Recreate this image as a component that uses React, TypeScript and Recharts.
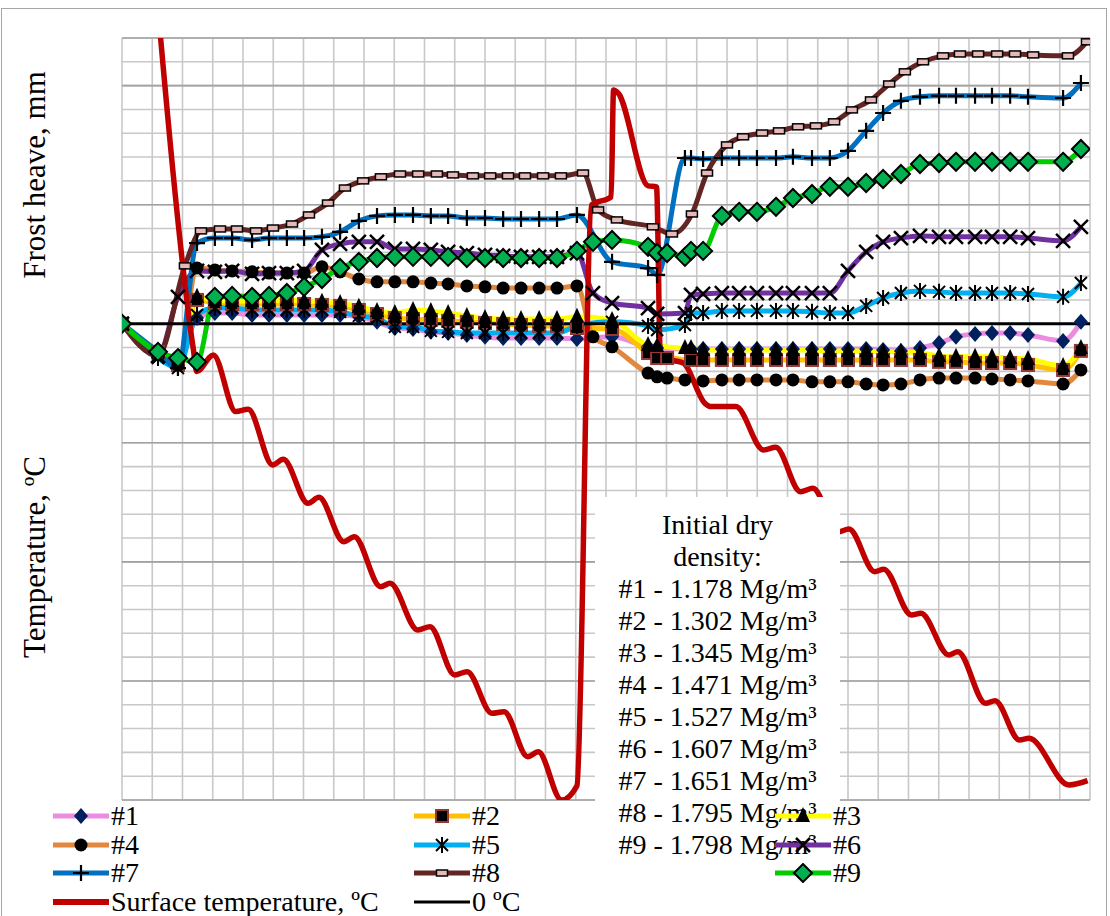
import React from 'react';
import { LineChart, Line, XAxis, YAxis, CartesianGrid, ReferenceLine } from 'recharts';

const W = 1110;
const H = 916;
const FONT = "'Liberation Serif', 'Times New Roman', serif";

// reading times (grid units) shared by samples #1-#7 and #9
const times = [
  0, 1.19, 1.85, 2.48, 3.07, 3.64, 4.3, 4.86, 5.45, 6.02, 6.61, 7.21, 7.83, 8.43, 9.02, 9.62, 10.21,
  10.78, 11.4, 12.0, 12.6, 13.19, 13.79, 14.38, 15.04, 15.57, 16.2, 17.39, 17.69, 18.02, 18.61, 18.81,
  19.21, 19.83, 20.4, 20.99, 21.62, 22.18, 22.81, 23.4, 24.0, 24.6, 25.16, 25.75, 26.38, 27.01, 27.57,
  28.2, 28.76, 29.36, 29.95, 31.11, 31.7,
];

// sample #8 was read slightly later
const times8 = [
  0, 1.19, 2.08, 2.61, 3.24, 3.8, 4.43, 4.99, 5.62, 6.18, 6.81, 7.37, 7.97, 8.56, 9.19, 9.79, 10.41,
  10.94, 11.6, 12.17, 12.76, 13.32, 13.92, 14.51, 15.24, 15.74, 16.36, 17.55, 18.18, 18.84, 19.34, 20.0,
  20.53, 21.16, 21.72, 22.35, 22.94, 23.54, 24.13, 24.76, 25.36, 25.88, 26.48, 27.14, 27.7, 28.3, 28.93,
  29.52, 30.12, 31.27, 31.9,
];

// frost heave, mm
const heave1 = [
  0, -1.18, -1.6, 0.24, 0.45, 0.45, 0.37, 0.37, 0.37, 0.37, 0.37, 0.37, 0.29, 0.08, -0.18, -0.22, -0.34,
  -0.39, -0.47, -0.55, -0.6, -0.6, -0.6, -0.6, -0.64, null, -0.55, -0.97, -1.02, null, null, -1.06,
  -1.06, -1.06, -1.06, -1.06, -1.06, -1.06, -1.06, -1.06, -1.06, -1.06, -1.1, -1.14, -1.02, -0.81,
  -0.55, -0.43, -0.39, -0.39, -0.47, -0.72, 0.08,
];
const heave2 = [
  0, -1.18, -1.73, 1.0, 0.87, 0.83, 0.83, 0.83, 0.83, 0.83, 0.79, 0.75, 0.58, 0.41, 0.24, 0.2, 0.16,
  0.12, 0.08, 0.03, -0.01, -0.05, -0.09, -0.09, -0.18, null, -0.22, -1.23, -1.44, -1.44, null, -1.52,
  -1.52, -1.52, -1.52, -1.52, -1.52, -1.52, -1.52, -1.52, -1.52, -1.52, -1.52, -1.52, -1.52, -1.6,
  -1.6, -1.65, -1.65, -1.65, -1.73, -1.94, -1.14,
];
const heave3 = [
  0, -1.18, -1.6, 1.13, 1.0, 0.96, 0.96, 0.96, 1.0, 0.96, 0.92, 0.87, 0.71, 0.54, 0.45, 0.58, 0.54,
  0.45, 0.33, 0.24, 0.2, 0.2, 0.2, 0.2, 0.29, null, 0.16, -0.89, -0.93, null, -1.02, -1.02, -1.1,
  -1.1, -1.1, -1.1, -1.1, -1.1, -1.1, -1.14, -1.14, -1.14, -1.18, -1.18, -1.23, -1.35, -1.39, -1.39,
  -1.39, -1.44, -1.48, -1.77, -1.02,
];
const heave4 = [
  0, -1.27, -1.73, 2.34, 2.26, 2.22, 2.18, 2.13, 2.13, 2.13, 2.39, 2.18, 1.88, 1.76, 1.76, 1.76, 1.71,
  1.67, 1.59, 1.55, 1.5, 1.5, 1.5, 1.5, 1.59, -0.55, -0.97, -2.07, -2.23, -2.28, -2.36, null, -2.4,
  -2.36, -2.36, -2.36, -2.36, -2.36, -2.44, -2.44, -2.44, -2.53, -2.57, -2.53, -2.36, -2.28, -2.28,
  -2.28, -2.32, -2.36, -2.4, -2.53, -1.94,
];
const heave5 = [
  0, -1.44, -1.86, 0.37, 0.66, 0.66, 0.58, 0.58, 0.58, 0.58, 0.58, 0.5, 0.33, 0.24, -0.13, -0.13, -0.3,
  -0.34, -0.39, -0.39, -0.39, -0.39, -0.39, -0.39, -0.09, null, 0.08, -0.09, -0.26, null, -0.05, 0.45,
  0.45, 0.54, 0.54, 0.54, 0.54, 0.54, 0.5, 0.45, 0.45, 0.75, 1.08, 1.29, 1.38, 1.34, 1.29, 1.29, 1.29,
  1.29, 1.25, 1.13, 1.71,
];
const heave6 = [
  0, -1.35, 1.13, 2.22, 2.18, 2.22, 2.09, 2.13, 2.13, 2.22, 3.1, 3.35, 3.44, 3.44, 3.14, 3.14, 3.1,
  3.02, 2.97, 2.89, 2.85, 2.81, 2.81, 2.81, 2.97, 1.29, 0.87, 0.66, 0.41, null, 0.45, 1.21, 1.25, 1.29,
  1.29, 1.29, 1.29, 1.29, 1.29, 1.29, 2.22, 3.02, 3.44, 3.6, 3.69, 3.65, 3.65, 3.65, 3.65, 3.65, 3.6,
  3.48, 4.07,
];
const heave7 = [
  0, -1.18, -1.86, 3.39, 3.6, 3.6, 3.52, 3.6, 3.6, 3.6, 3.65, 3.86, 4.32, 4.53, 4.57, 4.57, 4.53, 4.53,
  4.44, 4.44, 4.4, 4.4, 4.4, 4.4, 4.57, null, 2.6, 2.34, 2.05, null, 6.96, 6.96, 6.92, 6.96, 6.96, 6.96,
  6.96, 7.01, 6.96, 6.96, 7.26, 8.1, 8.85, 9.36, 9.53, 9.57, 9.57, 9.57, 9.57, 9.57, 9.53, 9.48, 10.11,
];
const heave8 = [
  0, -1.35, 2.43, 3.9, 3.98, 3.98, 3.9, 4.02, 4.19, 4.57, 5.07, 5.7, 6.0, 6.17, 6.29, 6.29, 6.29, 6.25,
  6.21, 6.21, 6.21, 6.21, 6.21, 6.21, 6.33, 4.78, 4.36, 4.07, 3.77, 4.61, 6.33, 7.51, 7.85, 8.01, 8.1,
  8.27, 8.31, 8.48, 8.98, 9.4, 10.07, 10.58, 11.0, 11.25, 11.33, 11.33, 11.33, 11.33, 11.29, 11.25,
  11.84,
];
const heave9 = [
  0, -1.18, -1.44, -1.6, 1.13, 1.17, 1.13, 1.17, 1.29, 1.55, 1.88, 2.34, 2.6, 2.76, 2.81, 2.81, 2.81,
  2.81, 2.76, 2.76, 2.76, 2.76, 2.76, 2.76, 3.06, 3.44, 3.52, 3.23, 2.97, 2.97, 2.81, 3.06, 3.06, 4.53,
  4.7, 4.7, 4.91, 5.28, 5.45, 5.75, 5.75, 5.91, 6.08, 6.29, 6.71, 6.75, 6.8, 6.8, 6.8, 6.8, 6.8, 6.8,
  7.34,
];

// surface temperature, ºC
const tempTimes = [
  1.0, 2.36, 2.47, 3.02, 3.76, 4.17, 4.98, 5.33, 6.15, 6.51, 7.33, 7.68, 8.55, 8.86, 9.78, 10.18, 11.0,
  11.41, 12.23, 12.63, 13.41, 13.76, 14.53, 15.04, 15.52, 16.17, 16.25, 16.4, 17.39, 17.67, 17.8,
  18.55, 19.27, 19.47, 20.29, 21.21, 21.61, 22.43, 22.84, 23.67, 24.03, 24.88, 25.18, 26.1, 26.41,
  27.33, 27.63, 28.55, 28.86, 29.67, 29.98, 31.31, 31.92,
];
const tempValues = [
  15.96, -1.09, -2.01, -1.31, -3.69, -3.59, -5.93, -5.69, -7.54, -7.29, -9.15, -8.94, -11.04, -10.9,
  -12.86, -12.72, -14.75, -14.61, -16.36, -16.29, -18.18, -17.97, -20.0, -19.4, 4.99, 5.33, 9.82, 9.69,
  5.79, 5.75, -1.44, -1.65, -3.34, -3.48, -3.48, -5.3, -5.19, -7.05, -6.91, -8.74, -8.62, -10.41,
  -10.31, -12.23, -12.16, -13.91, -13.77, -15.94, -15.83, -17.48, -17.41, -19.37, -19.19,
];
const zeroTimes = [0, 32];
const zeroValues = [0, 0];

const densities = ['1.178', '1.302', '1.345', '1.471', '1.527', '1.607', '1.651', '1.795', '1.798'];

type MarkerKind = 'diamond' | 'square' | 'triangle' | 'circle' | 'star' | 'cross' | 'plus' | 'dash' | 'greenDiamond';

const series: { name: string; t: number[]; v: (number | null)[]; color: string; marker: MarkerKind }[] = [
  { name: '#1', t: times, v: heave1, color: '#EC8CE0', marker: 'diamond' },
  { name: '#2', t: times, v: heave2, color: '#FFC000', marker: 'square' },
  { name: '#3', t: times, v: heave3, color: '#FFFF00', marker: 'triangle' },
  { name: '#4', t: times, v: heave4, color: '#E1873E', marker: 'circle' },
  { name: '#5', t: times, v: heave5, color: '#00B0F0', marker: 'star' },
  { name: '#6', t: times, v: heave6, color: '#7030A0', marker: 'cross' },
  { name: '#7', t: times, v: heave7, color: '#0070C0', marker: 'plus' },
  { name: '#8', t: times8, v: heave8, color: '#632523', marker: 'dash' },
  { name: '#9', t: times, v: heave9, color: '#00CC00', marker: 'greenDiamond' },
];

const xTicks = Array.from({ length: 33 }, (_, i) => i);
const yTicks = Array.from({ length: 33 }, (_, i) => i - 20);
const majorY = [-20, -15, -10, -5, 5, 10, 12];

function Marker({ kind, x, y }: { kind: MarkerKind; x: number; y: number }) {
  switch (kind) {
    case 'diamond':
      return <path d={`M${x} ${y - 8}L${x + 7} ${y}L${x} ${y + 8}L${x - 7} ${y}Z`} fill="#002060" />;
    case 'greenDiamond':
      return (
        <path d={`M${x} ${y - 9}L${x + 9} ${y}L${x} ${y + 9}L${x - 9} ${y}Z`} fill="#00B050" stroke="#000" strokeWidth={2} />
      );
    case 'square':
      return <rect x={x - 6} y={y - 6} width={12} height={12} fill="#000" stroke="#953735" strokeWidth={2} />;
    case 'triangle':
      return <path d={`M${x} ${y - 9}L${x + 7} ${y + 6}L${x - 7} ${y + 6}Z`} fill="#000" />;
    case 'circle':
      return <circle cx={x} cy={y} r={6.5} fill="#000" />;
    case 'star':
      return (
        <path
          d={`M${x - 6} ${y - 6}L${x + 6} ${y + 6}M${x + 6} ${y - 6}L${x - 6} ${y + 6}M${x} ${y - 8}L${x} ${y + 8}`}
          stroke="#000"
          strokeWidth={2}
        />
      );
    case 'cross':
      return <path d={`M${x - 7} ${y - 7}L${x + 7} ${y + 7}M${x + 7} ${y - 7}L${x - 7} ${y + 7}`} stroke="#000" strokeWidth={2.5} />;
    case 'plus':
      return <path d={`M${x - 8} ${y}L${x + 8} ${y}M${x} ${y - 8}L${x} ${y + 8}`} stroke="#000" strokeWidth={2.2} />;
    case 'dash':
      return <rect x={x - 5.5} y={y - 3} width={11} height={6} fill="#E6B9B8" stroke="#000" strokeWidth={1.5} />;
  }
  return null;
}

const makeDot = (kind: MarkerKind) => (p: any) => {
  const key = `${kind}-${p.index}`;
  if (p.value == null || !Number.isFinite(p.cx) || !Number.isFinite(p.cy)) return <g key={key} />;
  return (
    <g key={key}>
      <Marker kind={kind} x={p.cx} y={p.cy} />
    </g>
  );
};

const legendItems: { label: string; color: string; width: number; marker?: MarkerKind }[] = [
  ...series.map((s) => ({ label: s.name, color: s.color, width: 5, marker: s.marker })),
  { label: 'Surface temperature, ºC', color: '#C00000', width: 6 },
  { label: '0 ºC', color: '#000000', width: 3 },
];
const legendCols = [53, 414, 775];

export default function App() {
  return (
    <div style={{ position: 'absolute', left: 0, top: 0, width: W, height: H, background: '#fff', overflow: 'hidden', fontFamily: FONT, color: '#000' }}>
      <LineChart width={W} height={H} margin={{ top: 38, right: 20, bottom: 116, left: 122 }}>
        <XAxis type="number" dataKey="t" domain={[0, 32]} ticks={xTicks} allowDataOverflow hide />
        <YAxis yAxisId="heave" type="number" domain={[-20, 12]} ticks={yTicks} allowDataOverflow hide />
        <YAxis yAxisId="temp" type="number" domain={[-20, 12]} allowDataOverflow hide />
        <CartesianGrid yAxisId="heave" stroke="#c8c8c8" strokeWidth={1.6} />
        {majorY.map((y) => (
          <ReferenceLine key={y} yAxisId="heave" y={y} stroke="#a2a2a2" strokeWidth={1.6} />
        ))}
        {series.map((s) => (
          <Line
            key={s.name}
            yAxisId="heave"
            data={s.t.map((t, i) => ({ t, v: s.v[i] }))}
            dataKey="v"
            type="monotone"
            stroke={s.color}
            strokeWidth={5}
            connectNulls
            dot={makeDot(s.marker)}
            activeDot={false}
            isAnimationActive={false}
          />
        ))}
        <Line
          yAxisId="temp"
          data={tempTimes.map((t, i) => ({ t, v: tempValues[i] }))}
          dataKey="v"
          type="monotone"
          stroke="#C00000"
          strokeWidth={5.5}
          strokeLinejoin="round"
          dot={false}
          activeDot={false}
          isAnimationActive={false}
        />
        <Line
          yAxisId="temp"
          data={zeroTimes.map((t, i) => ({ t, v: zeroValues[i] }))}
          dataKey="v"
          type="linear"
          stroke="#000"
          strokeWidth={3}
          dot={false}
          activeDot={false}
          isAnimationActive={false}
        />
      </LineChart>

      <div
        style={{
          position: 'absolute',
          left: 595,
          top: 497,
          width: 245,
          height: 365,
          background: '#fff',
          boxSizing: 'border-box',
          paddingTop: 12,
          textAlign: 'center',
          fontSize: 28,
          lineHeight: '32px',
        }}
      >
        <div>Initial dry</div>
        <div>density:</div>
        {densities.map((d, i) => (
          <div key={d}>{`#${i + 1} - ${d} Mg/m³`}</div>
        ))}
      </div>

      {legendItems.map((item, i) => (
        <div
          key={item.label}
          style={{
            position: 'absolute',
            left: legendCols[i % 3],
            top: 801 + Math.floor(i / 3) * 28.6,
            height: 30,
            display: 'flex',
            alignItems: 'center',
            whiteSpace: 'nowrap',
          }}
        >
          <svg width={56} height={20} style={{ display: 'block' }}>
            <line x1={0} y1={10} x2={56} y2={10} stroke={item.color} strokeWidth={item.width} />
            {item.marker && <Marker kind={item.marker} x={28} y={10} />}
          </svg>
          <span style={{ fontSize: 28, lineHeight: '30px', marginLeft: 2 }}>{item.label}</span>
        </div>
      ))}

      <div style={{ position: 'absolute', left: 35, top: 175, transform: 'translate(-50%, -50%) rotate(-90deg)', whiteSpace: 'nowrap', fontSize: 31 }}>
        Frost heave, mm
      </div>
      <div style={{ position: 'absolute', left: 35, top: 557, transform: 'translate(-50%, -50%) rotate(-90deg)', whiteSpace: 'nowrap', fontSize: 31 }}>
        Temperature, ºC
      </div>

      <div style={{ position: 'absolute', left: 1, top: 8, width: 1106, height: 930, border: '1px solid #a6a6a6', boxSizing: 'border-box', pointerEvents: 'none' }} />
    </div>
  );
}
